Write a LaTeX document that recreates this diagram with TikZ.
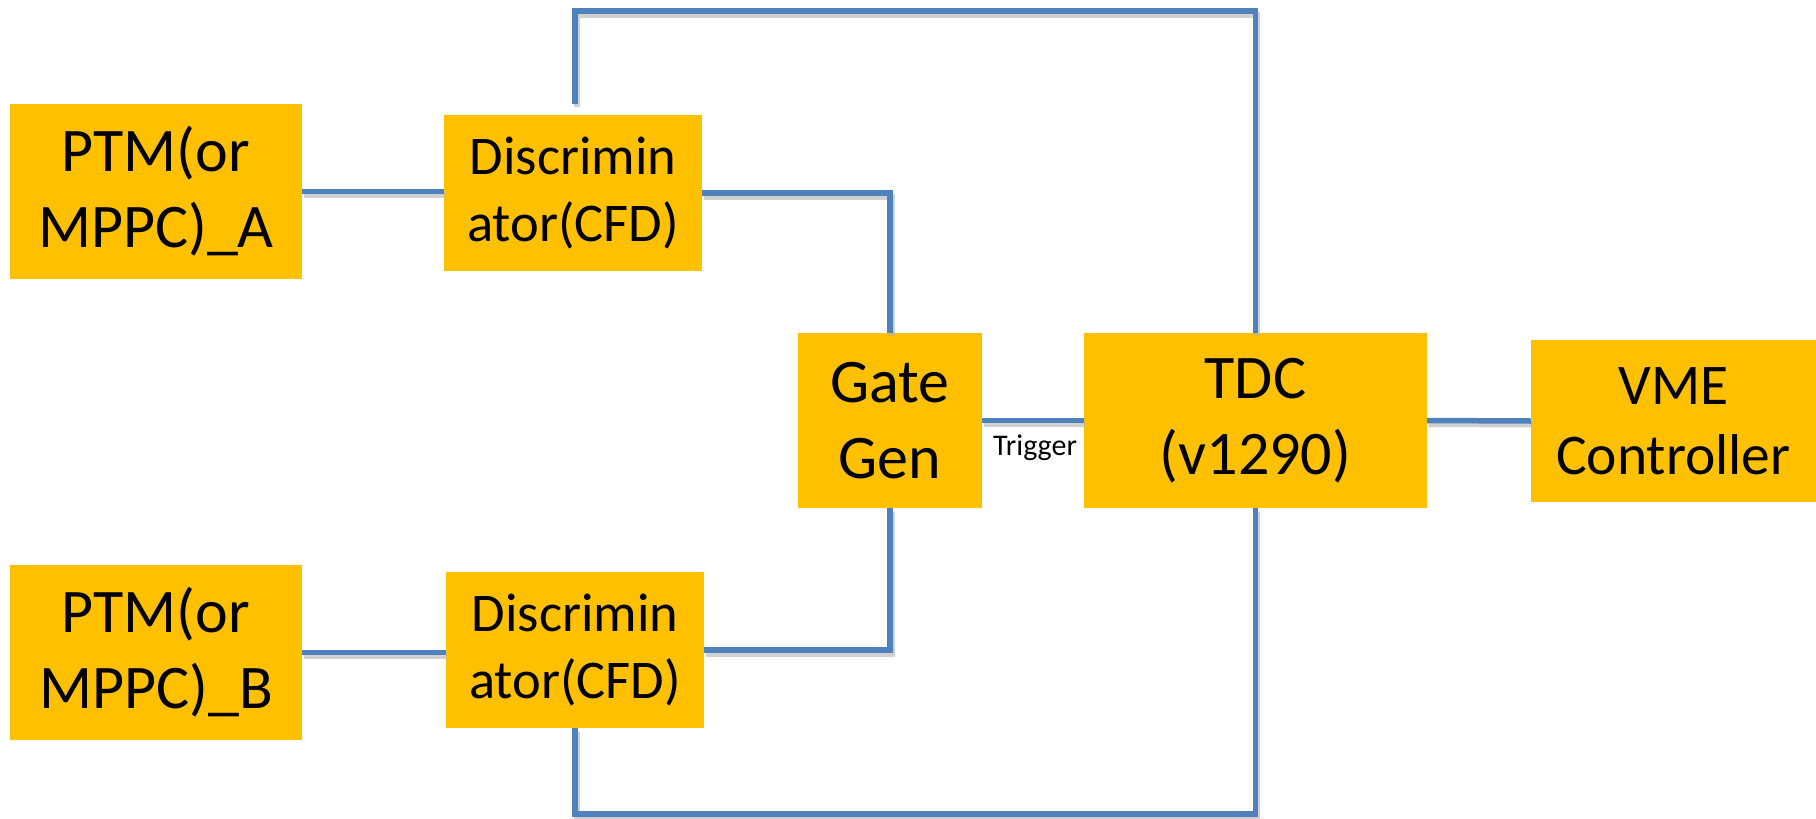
\documentclass[tikz,border=0pt]{standalone}
\usepackage{fontspec}
\setmainfont{Carlito}
\definecolor{boxfill}{HTML}{FFC000}
\definecolor{wire}{HTML}{4F81BD}
\begin{document}
\begin{tikzpicture}[x=1pt,y=-1pt,
  blk/.style={fill=boxfill,draw=none,inner sep=0pt,align=center,text=black},
  bigtxt/.style={font=\fontsize{62}{76}\selectfont},
  midtxt/.style={font=\fontsize{54.5}{67}\selectfont},
  vmetxt/.style={font=\fontsize{57.5}{70}\selectfont},
  wireline/.style={draw=wire,line width=5.5pt,
    preaction={draw=black!30,line width=6pt,opacity=0.6,transform canvas={shift={(1.5,3.5)}}}},
  lbl/.style={font=\fontsize{30}{36}\selectfont,inner sep=0pt,text=black}]
\useasboundingbox[fill=white] (0,0) rectangle (1816,819);

\coordinate (topy) at (0,11);
\coordinate (boty) at (0,814);

% boxes
\node[blk,bigtxt,minimum width=292pt,minimum height=175pt] (ptmA) at (156,191.5) {PTM(or\\MPPC)\_A};
\node[blk,midtxt,minimum width=258pt,minimum height=156pt] (discA) at (573,193) {Discrimin\\ator(CFD)};
\node[blk,bigtxt,minimum width=292pt,minimum height=175pt] (ptmB) at (156,652.5) {PTM(or\\MPPC)\_B};
\node[blk,midtxt,minimum width=258pt,minimum height=156pt] (discB) at (575,650) {Discrimin\\ator(CFD)};
\node[blk,bigtxt,minimum width=184pt,minimum height=175pt] (gate) at (890,420.5) {Gate\\Gen};
\node[lbl,anchor=base west] (trig) at (993,455) {Trigger};
\node[blk,bigtxt,minimum width=343pt,minimum height=175pt] (tdc) at (1255.5,420.5) {TDC\\(v1290)};
\node[blk,vmetxt,minimum width=285pt,minimum height=162pt] (vme) at (1673.5,421) {VME\\Controller};

% connectors
\draw[wireline] (ptmA.east) -- (ptmA.east -| discA.west);
\draw[wireline] (discA.east) -| (gate.north);
\draw[wireline] ([shift={(2,-11)}]discA.north) |- (tdc.north |- topy) -- (tdc.north);
\draw[wireline] (ptmB.east) -- (ptmB.east -| discB.west);
\draw[wireline] (discB.east) -| (gate.south);
\draw[wireline] (discB.south) |- (tdc.south |- boty) -- (tdc.south);
\draw[wireline] (gate.east) -- (tdc.west);
\draw[wireline] (tdc.east) -- (vme.west);
\end{tikzpicture}
\end{document}
